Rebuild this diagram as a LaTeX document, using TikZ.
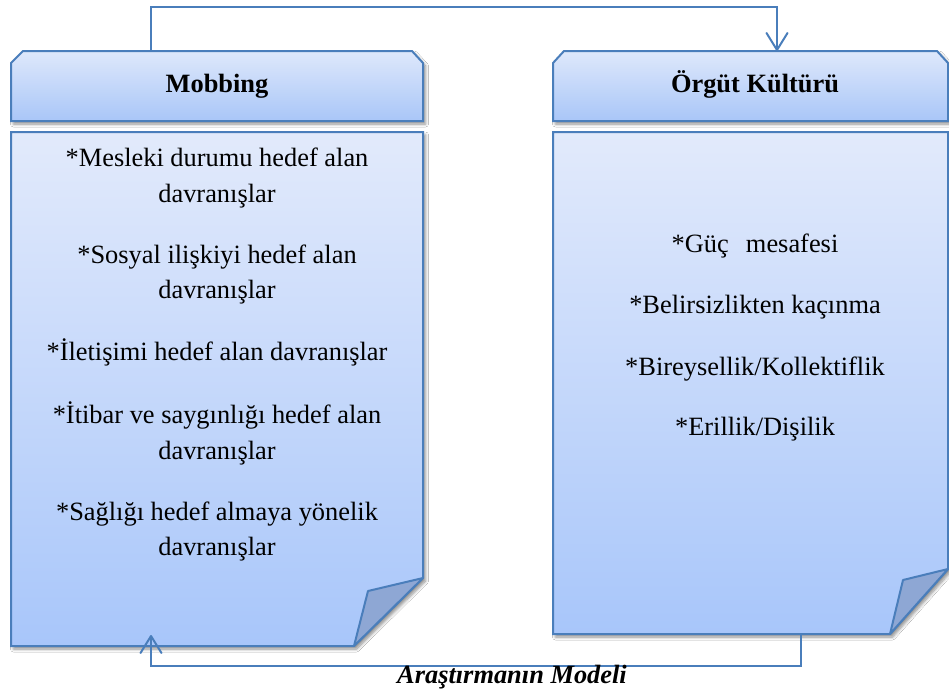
\documentclass[tikz,border=0pt]{standalone}
\usepackage{fontspec}
\setmainfont{Liberation Serif}
\usetikzlibrary{arrows.meta,shadows.blur}
\definecolor{lineblue}{HTML}{4A7EBB}
\definecolor{hdrtop}{HTML}{DEE8FB}
\definecolor{hdrbot}{HTML}{A9C6F8}
\definecolor{bodytop}{HTML}{E2EAFB}
\definecolor{bodybot}{HTML}{A8C6FA}
\definecolor{flapcol}{HTML}{8EA7D4}
\begin{document}
\begin{tikzpicture}[x=1pt,y=-1pt,
  panel/.style={draw=lineblue, line width=2pt, line join=miter,
    blur shadow={shadow xshift=2.5pt, shadow yshift=-3pt, shadow blur radius=3pt,
      shadow blur steps=6, shadow opacity=45}},
  hdr/.style={panel, top color=hdrtop, bottom color=hdrbot},
  bod/.style={panel, top color=bodytop, bottom color=bodybot},
  flap/.style={fill=flapcol, draw=lineblue, line width=2pt, line join=round},
  conn/.style={draw=lineblue, line width=2pt,
    -{Straight Barb[length=17pt,width=21pt,line width=2pt,round]}},
  txt/.style={font=\fontsize{26.4}{32}\selectfont, anchor=base, inner sep=0pt, text=black},
  htxt/.style={txt, font=\fontsize{26.4}{32}\selectfont\bfseries}]
\useasboundingbox (0,0) rectangle (949,696);
\fill[white] (0,0) rectangle (949,696);

% headers
\path[hdr] (11,63) -- (23,51) -- (412,51) -- (423,63) -- (423,121) -- (11,121) -- cycle;
\path[hdr] (553,63) -- (564,51) -- (937,51) -- (948,63) -- (948,121) -- (553,121) -- cycle;

% bodies
\path[bod] (11,132) -- (423,132) -- (423,578) -- (354,646) -- (11,646) -- cycle;
\path[flap] (423,578) -- (368,591) -- (354,646) -- cycle;
\path[bod] (553,132) -- (948,132) -- (948,569) -- (890,634) -- (553,634) -- cycle;
\path[flap] (948,569) -- (903,580) -- (890,634) -- cycle;

% header texts
\node[htxt] (hL) at (217,92) {Mobbing};
\node[htxt] (hR) at (755,92) {Örgüt Kültürü};

% left body text
\node[txt] (l1) at (217,166) {*Mesleki durumu hedef alan};
\node[txt] (l2) at (217,202) {davranışlar};
\node[txt] (l3) at (217,263) {*Sosyal ilişkiyi hedef alan};
\node[txt] (l4) at (217,298) {davranışlar};
\node[txt] (l5) at (217,360) {*İletişimi hedef alan davranışlar};
\node[txt] (l6) at (217,423) {*İtibar ve saygınlığı hedef alan};
\node[txt] (l7) at (217,459) {davranışlar};
\node[txt] (l8) at (217,520) {*Sağlığı hedef almaya yönelik};
\node[txt] (l9) at (217,555) {davranışlar};

% right body text
\node[txt] (r1) at (755,252) {*Güç\hspace{0.65em}mesafesi};
\node[txt] (r2) at (755,313) {*Belirsizlikten kaçınma};
\node[txt] (r3) at (755,375) {*Bireysellik/Kollektiflik};
\node[txt] (r4) at (755,435) {*Erillik/Dişilik};

% connectors
\coordinate (ltop) at (151,51);
\coordinate (rtop) at (777,51);
\coordinate (topmid) at (464,7);
\draw[conn] (ltop) |- (topmid) -| (rtop);

\coordinate (rbot) at (801,634);
\coordinate (lbot) at (151,635);
\coordinate (botmid) at (476,666);
\draw[conn] (rbot) |- (botmid) -| (lbot);

% caption
\node[txt, font=\fontsize{26.4}{32}\selectfont\bfseries\itshape] (cap) at (512,683) {Araştırmanın Modeli};
\end{tikzpicture}
\end{document}
